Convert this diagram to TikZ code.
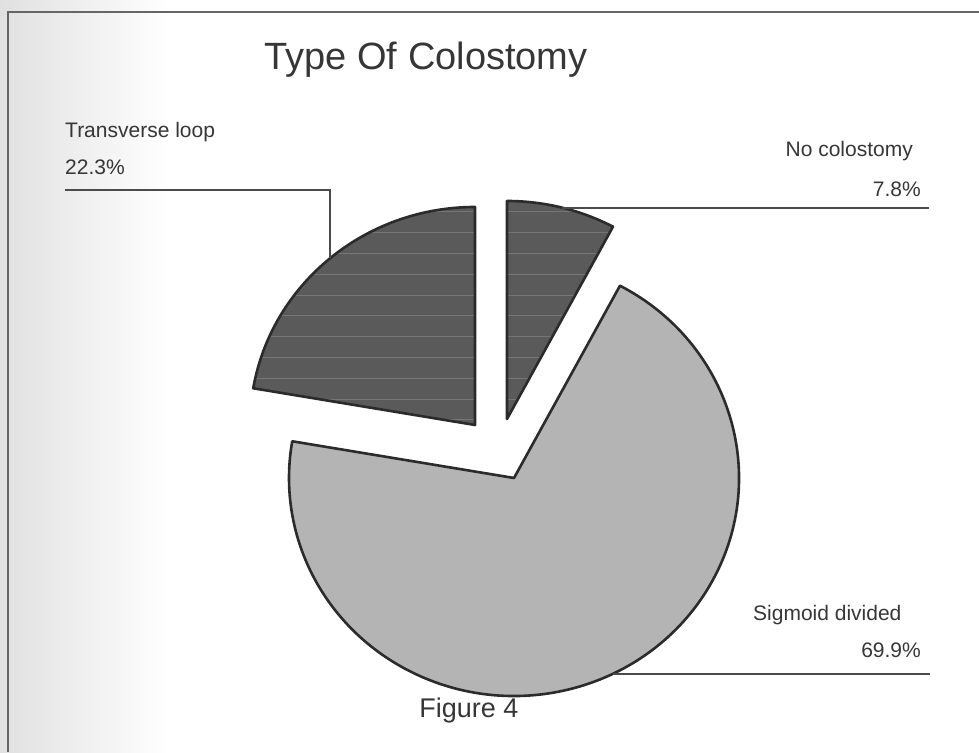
\documentclass[tikz,border=0pt]{standalone}
\usepackage{fontspec}
\setmainfont{Liberation Sans}
\usepackage{xcolor}
\usetikzlibrary{calc}
\definecolor{ink}{HTML}{2B2B2B}
\definecolor{txt}{HTML}{363636}
\definecolor{darkfill}{HTML}{5A5A5A}
\definecolor{lightfill}{HTML}{B4B4B4}
\definecolor{stripe}{HTML}{767676}
\definecolor{frame}{HTML}{666666}

\begin{document}
\begin{tikzpicture}[
  x=1pt, y=1pt,
  slice/.style={draw=ink, line width=2.6pt, line join=round},
  darkslice/.style={slice, fill=darkfill},
  lightslice/.style={slice, fill=lightfill},
  stripeline/.style={draw=stripe, line width=1pt},
  leader/.style={draw=ink!85, line width=2pt},
  lbl/.style={inner sep=0pt, text=txt, font=\fontsize{21}{25}\selectfont},
  ttl/.style={inner sep=0pt, text=txt, font=\fontsize{38}{44}\selectfont},
  figlbl/.style={inner sep=0pt, text=txt, font=\fontsize{27}{32}\selectfont},
]
\useasboundingbox (0,0) rectangle (979,752);
\fill[left color=black!12, right color=white] (0,0) rectangle (170,752);
\draw[frame, line width=2pt] (979,740) -- (8,740) -- (8,0);

\coordinate (T) at (475,327);
\coordinate (N) at (507,333);
\coordinate (S) at (514,274);

\path[lightslice] (S) -- ++(61.9:225pt and 218pt)
  arc[start angle=61.9, end angle=-189.7, x radius=225pt, y radius=218pt] -- cycle;

\begin{scope}
  \clip (T) -- ++(170.3:225pt and 218pt)
    arc[start angle=170.3, end angle=90, x radius=225pt, y radius=218pt] -- cycle;
  \fill[darkfill] (200,80) rectangle (700,600);
  \foreach \k in {0,...,10}
    \draw[stripeline] (200,540-20.8*\k) -- ++(500,0);
\end{scope}
\path[slice] (T) -- ++(170.3:225pt and 218pt)
  arc[start angle=170.3, end angle=90, x radius=225pt, y radius=218pt] -- cycle;

\begin{scope}
  \clip (N) -- ++(90:225pt and 218pt)
    arc[start angle=90, end angle=61.9, x radius=225pt, y radius=218pt] -- cycle;
  \fill[darkfill] (200,80) rectangle (700,600);
  \foreach \k in {0,...,10}
    \draw[stripeline] (200,540-20.8*\k) -- ++(500,0);
\end{scope}
\path[slice] (N) -- ++(90:225pt and 218pt)
  arc[start angle=90, end angle=61.9, x radius=225pt, y radius=218pt] -- cycle;

\coordinate (tl-mid) at ($(T)+(130.15:225pt and 218pt)$);
\coordinate (nc-mid) at ($(N)+(75.96:225pt and 218pt)$);
\coordinate (sd-mid) at ($(S)+(-63.9:225pt and 218pt)$);
\coordinate (tl-end) at (65,562);
\coordinate (nc-end) at (929,544);
\coordinate (sd-end) at (930,80);

\draw[leader] (tl-mid) |- (tl-end);
\draw[leader] (nc-mid) -- (nc-mid -| nc-end);
\draw[leader] (sd-mid) -- (sd-mid -| sd-end);

\node[ttl, anchor=base] (title) at (426,682) {Type Of Colostomy};
\node[lbl, anchor=base west] (tl-name) at (65,614) {Transverse loop};
\node[lbl, anchor=base west] (tl-pct) at (65,577) {22.3\%};
\node[lbl, anchor=base east] (nc-name) at (913,595) {No colostomy};
\node[lbl, anchor=base east] (nc-pct) at (921,555) {7.8\%};
\node[lbl, anchor=base west] (sd-name) at (753,131) {Sigmoid divided};
\node[lbl, anchor=base east] (sd-pct) at (921,94) {69.9\%};
\node[figlbl, anchor=base] (figcap) at (469,35) {Figure 4};

\end{tikzpicture}
\end{document}
